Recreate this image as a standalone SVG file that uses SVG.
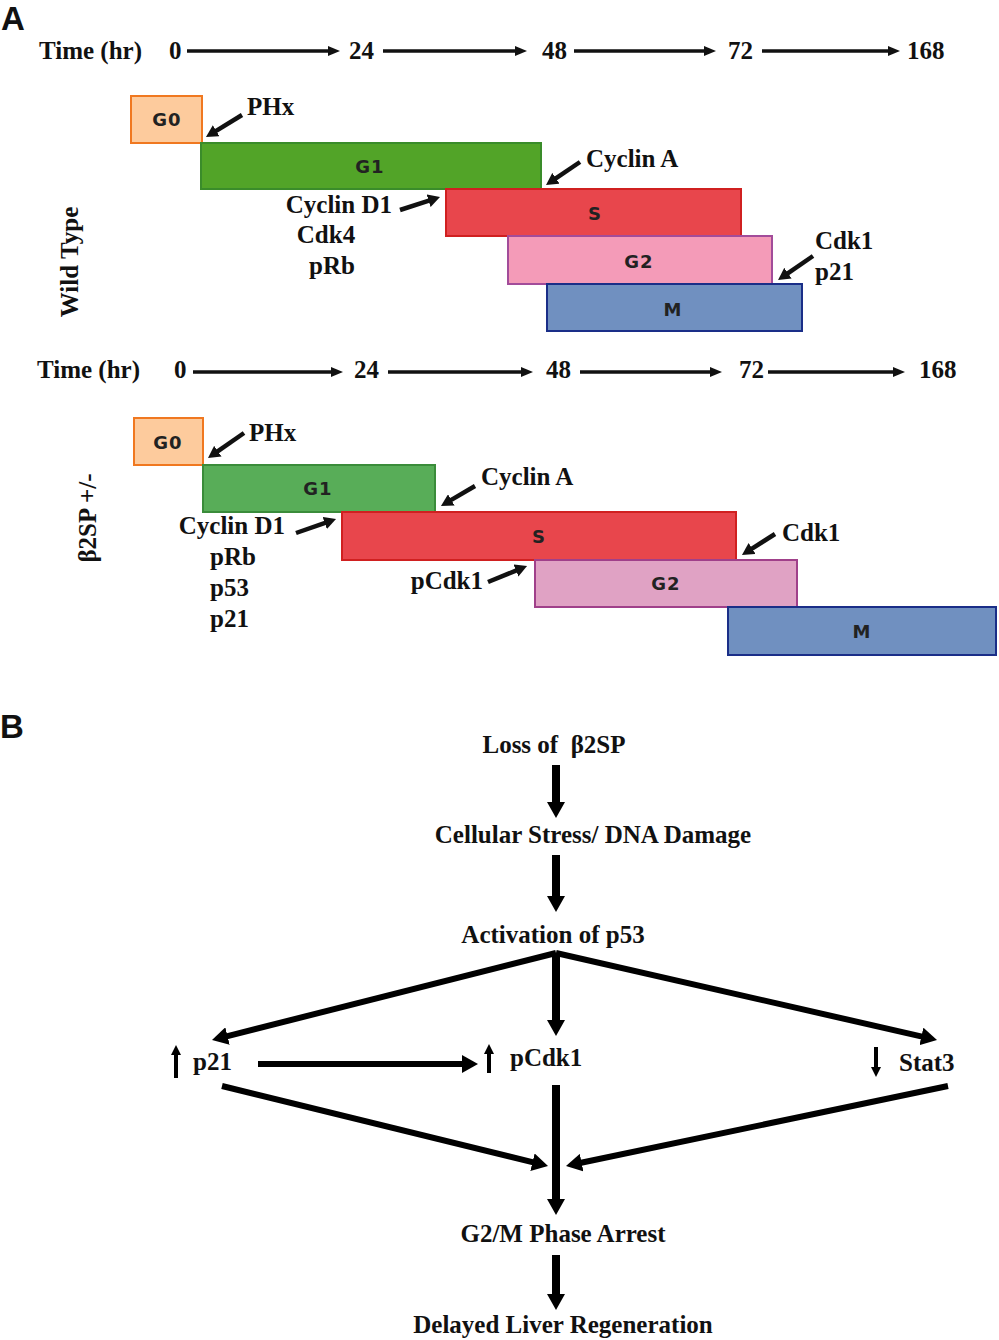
<svg xmlns="http://www.w3.org/2000/svg" width="999" height="1340" viewBox="0 0 999 1340">
<style>
.t{font-family:"Liberation Serif","Times New Roman",serif;font-weight:bold;font-size:25px;fill:#111}
.tb{font-family:"Liberation Serif","Times New Roman",serif;font-weight:bold;font-size:25px;fill:#111}
.panel{font-family:"Liberation Sans",Arial,sans-serif;font-weight:bold;font-size:33px;fill:#111}
.bx{font-family:"DejaVu Sans",Verdana,sans-serif;font-weight:bold;font-size:18px;fill:#222;text-anchor:middle;letter-spacing:1px}
.box{stroke-width:2}
.tl{stroke:#111;stroke-width:3.5;fill:none}
.pt{stroke:#111;stroke-width:4.5;fill:none}
.big{stroke:#000;stroke-width:8;fill:none}
.mid{stroke:#000;stroke-width:6;fill:none}
.sm{stroke:#000;stroke-width:4;fill:none}
</style>
<defs>
<marker id="mt" viewBox="0 0 12 10" refX="2" refY="5" markerWidth="12" markerHeight="10" markerUnits="userSpaceOnUse" orient="auto"><path d="M0,0 L12,5 L0,10 z" fill="#111"/></marker>
<marker id="mp" viewBox="0 0 12 13" refX="2" refY="6.5" markerWidth="12" markerHeight="13" markerUnits="userSpaceOnUse" orient="auto"><path d="M0,0 L12,6.5 L0,13 z" fill="#111"/></marker>
<marker id="mb" viewBox="0 0 16 18" refX="3" refY="9" markerWidth="16" markerHeight="18" markerUnits="userSpaceOnUse" orient="auto"><path d="M0,0 L16,9 L0,18 z" fill="#000"/></marker>
<marker id="ms" viewBox="0 0 10 10" refX="1" refY="5" markerWidth="10" markerHeight="11" markerUnits="userSpaceOnUse" orient="auto"><path d="M0,0 L10,5 L0,10 z" fill="#000"/></marker>
</defs>
<rect width="999" height="1340" fill="#fff"/>

<text class="panel" x="1" y="30">A</text>
<text class="panel" x="0" y="738">B</text>

<g id="timeline-wt">
<text class="t" x="39" y="59">Time (hr)</text>
<text class="t" x="169" y="59">0</text>
<text class="t" x="349" y="59">24</text>
<text class="t" x="542" y="59">48</text>
<text class="t" x="728" y="59">72</text>
<text class="t" x="907" y="59">168</text>
</g>
<g id="label-wt"><text class="t" transform="translate(78,262) rotate(-90)" text-anchor="middle">Wild Type</text></g>

<g id="wt-G0"><rect class="box" x="131" y="96" width="71" height="47" fill="#FDCB9D" stroke="#F07820"/><text class="bx" x="167" y="126">G0</text></g>
<g id="wt-G1"><rect class="box" x="201" y="143" width="340" height="46" fill="#52A428" stroke="#3A8C2A"/><text class="bx" x="370" y="173">G1</text></g>
<g id="wt-S"><rect class="box" x="446" y="189" width="295" height="47" fill="#E8464C" stroke="#D02020"/><text class="bx" x="595" y="220">S</text></g>
<g id="wt-G2"><rect class="box" x="508" y="236" width="264" height="48" fill="#F49BB8" stroke="#A24C9A"/><text class="bx" x="639" y="268">G2</text></g>
<g id="wt-M"><rect class="box" x="547" y="284" width="255" height="47" fill="#7090C0" stroke="#1A2E88"/><text class="bx" x="673" y="316">M</text></g>
<g id="wt-labels">
<text class="t" x="247" y="115">PHx</text>
<text class="t" x="586" y="167">Cyclin A</text>
<text class="t" x="392" y="213" text-anchor="end">Cyclin D1</text>
<text class="t" x="326" y="243" text-anchor="middle">Cdk4</text>
<text class="t" x="332" y="274" text-anchor="middle">pRb</text>
<text class="t" x="815" y="249">Cdk1</text>
<text class="t" x="815" y="280">p21</text>
</g>

<g id="timeline-ko">
<text class="t" x="37" y="378">Time (hr)</text>
<text class="t" x="174" y="378">0</text>
<text class="t" x="354" y="378">24</text>
<text class="t" x="546" y="378">48</text>
<text class="t" x="739" y="378">72</text>
<text class="t" x="919" y="378">168</text>
</g>
<g id="label-ko"><text class="t" transform="translate(96,518) rotate(-90)" text-anchor="middle">β2SP +/-</text></g>

<g id="ko-G0"><rect class="box" x="134" y="418" width="69" height="47" fill="#FDCB9D" stroke="#F07820"/><text class="bx" x="168" y="449">G0</text></g>
<g id="ko-G1"><rect class="box" x="203" y="465" width="232" height="47" fill="#58AD58" stroke="#3A8C3A"/><text class="bx" x="318" y="495">G1</text></g>
<g id="ko-S"><rect class="box" x="342" y="512" width="394" height="48" fill="#E8464C" stroke="#D02020"/><text class="bx" x="539" y="543">S</text></g>
<g id="ko-G2"><rect class="box" x="535" y="560" width="262" height="47" fill="#E0A2C4" stroke="#A0408A"/><text class="bx" x="666" y="590">G2</text></g>
<g id="ko-M"><rect class="box" x="728" y="607" width="268" height="48" fill="#7090C0" stroke="#1A2E88"/><text class="bx" x="862" y="638">M</text></g>
<g id="ko-labels">
<text class="t" x="249" y="441">PHx</text>
<text class="t" x="481" y="485">Cyclin A</text>
<text class="t" x="285" y="534" text-anchor="end">Cyclin D1</text>
<text class="t" x="210" y="565">pRb</text>
<text class="t" x="210" y="596">p53</text>
<text class="t" x="210" y="627">p21</text>
<text class="t" x="782" y="541">Cdk1</text>
<text class="t" x="483" y="589" text-anchor="end">pCdk1</text>
</g>

<g id="b-loss"><text class="tb" x="554" y="753" text-anchor="middle" xml:space="preserve">Loss of  β2SP</text></g>
<g id="b-stress"><text class="tb" x="593" y="843" text-anchor="middle">Cellular Stress/ DNA Damage</text></g>
<g id="b-p53"><text class="tb" x="553" y="943" text-anchor="middle">Activation of p53</text></g>
<g id="b-p21"><text class="tb" x="193" y="1070">p21</text></g>
<g id="b-pcdk1"><text class="tb" x="510" y="1066">pCdk1</text></g>
<g id="b-stat3"><text class="tb" x="899" y="1071">Stat3</text></g>
<g id="b-arrest"><text class="tb" x="563" y="1242" text-anchor="middle">G2/M Phase Arrest</text></g>
<g id="b-delayed"><text class="tb" x="563" y="1333" text-anchor="middle">Delayed Liver Regeneration</text></g>

<g id="connectors">
<line class="tl" x1="187" y1="51" x2="330" y2="51" marker-end="url(#mt)"/>
<line class="tl" x1="383" y1="51" x2="517" y2="51" marker-end="url(#mt)"/>
<line class="tl" x1="574" y1="51" x2="706" y2="51" marker-end="url(#mt)"/>
<line class="tl" x1="762" y1="51" x2="890" y2="51" marker-end="url(#mt)"/>
<line class="tl" x1="193" y1="372" x2="333" y2="372" marker-end="url(#mt)"/>
<line class="tl" x1="388" y1="372" x2="523" y2="372" marker-end="url(#mt)"/>
<line class="tl" x1="580" y1="372" x2="712" y2="372" marker-end="url(#mt)"/>
<line class="tl" x1="768" y1="372" x2="895" y2="372" marker-end="url(#mt)"/>
<line class="pt" x1="242" y1="115" x2="214.5" y2="131.8" marker-end="url(#mp)"/>
<line class="pt" x1="580" y1="162" x2="554.3" y2="179.4" marker-end="url(#mp)"/>
<line class="pt" x1="400" y1="210" x2="430.5" y2="200.1" marker-end="url(#mp)"/>
<line class="pt" x1="813" y1="256" x2="786.3" y2="274.3" marker-end="url(#mp)"/>
<line class="pt" x1="244" y1="433" x2="216.2" y2="452.3" marker-end="url(#mp)"/>
<line class="pt" x1="475" y1="486" x2="449.6" y2="500.9" marker-end="url(#mp)"/>
<line class="pt" x1="296" y1="533" x2="326.6" y2="522.3" marker-end="url(#mp)"/>
<line class="pt" x1="775" y1="534" x2="750.4" y2="549.6" marker-end="url(#mp)"/>
<line class="pt" x1="488" y1="582" x2="517.8" y2="569.8" marker-end="url(#mp)"/>
<line class="big" x1="556" y1="765" x2="556" y2="805" marker-end="url(#mb)"/>
<line class="big" x1="556" y1="855" x2="556" y2="899" marker-end="url(#mb)"/>
<line class="big" x1="556" y1="953" x2="556" y2="1023" marker-end="url(#mb)"/>
<line class="mid" x1="556" y1="953" x2="224.6" y2="1036.8" marker-end="url(#mb)"/>
<line class="mid" x1="556" y1="953" x2="924.3" y2="1037.1" marker-end="url(#mb)"/>
<line class="mid" x1="258" y1="1064" x2="465" y2="1064" marker-end="url(#mb)"/>
<line class="big" x1="556" y1="1085" x2="556" y2="1202" marker-end="url(#mb)"/>
<line class="mid" x1="222" y1="1086" x2="535.4" y2="1162.9" marker-end="url(#mb)"/>
<line class="mid" x1="948" y1="1086" x2="578.7" y2="1163.3" marker-end="url(#mb)"/>
<line class="big" x1="556" y1="1255" x2="556" y2="1297" marker-end="url(#mb)"/>
<line class="sm" x1="176" y1="1078" x2="176" y2="1054" marker-end="url(#ms)"/>
<line class="sm" x1="489" y1="1073" x2="489" y2="1053" marker-end="url(#ms)"/>
<line class="sm" x1="876" y1="1047" x2="876" y2="1068" marker-end="url(#ms)"/>
</g>
</svg>
